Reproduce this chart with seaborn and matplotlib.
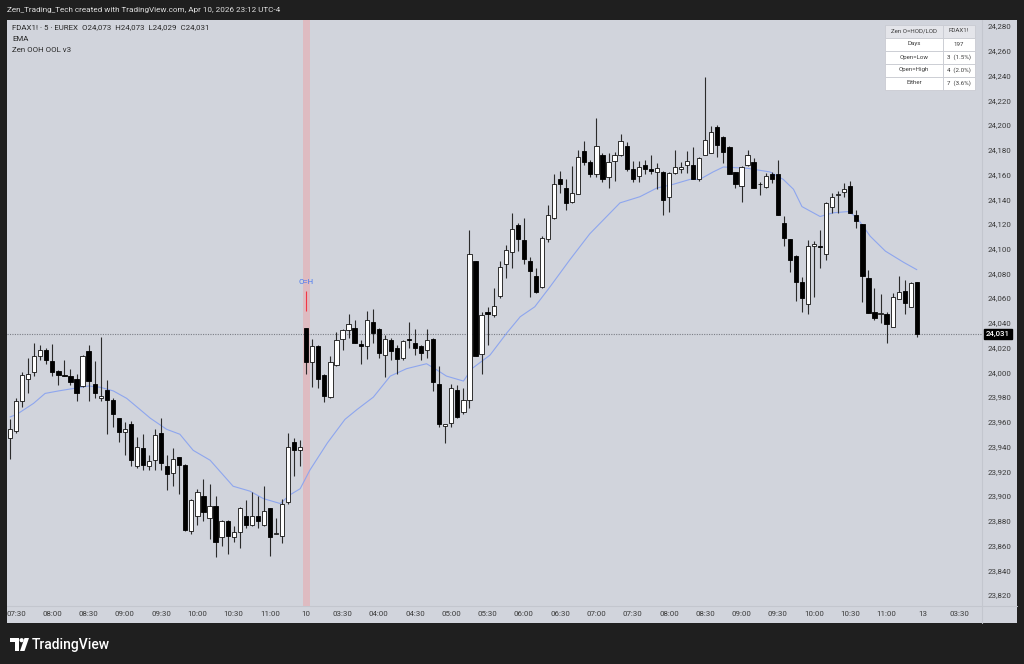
import numpy as np
import pandas as pd
import matplotlib
matplotlib.use("Agg")
import matplotlib.pyplot as plt
import matplotlib.patches as mpatches
import matplotlib.transforms as mtransforms
import seaborn as sns

# ---------------- data ----------------
opens = [23947, 23953, 23977, 23995, 24000, 24013, 24018, 24009, 24001, 23998,
         23997, 23995, 23989, 24017, 23991, 23979, 23986, 23978, 23963, 23952,
         23958, 23924, 23939, 23924, 23929, 23951, 23924, 23919, 23932, 23925,
         23872, 23884, 23900, 23882, 23892, 23867, 23880, 23867, 23871, 23884,
         23877, 23884, 23877, 23890, 23869, 23868, 23895, 23944, 23937,
         24036, 24008, 24021, 23998, 23980, 24006, 24027, 24034, 24036, 24023,
         24021, 24041, 24035, 24014, 24026, 24020, 24012, 24027, 24024, 24021,
         24018, 24027, 23991, 23957, 23959, 23986, 23968, 23978, 24090, 24015,
         24049, 24046, 24062, 24088, 24097, 24119, 24107, 24090, 24078, 24069,
         24108, 24125, 24156, 24149, 24138, 24144, 24179, 24170, 24160, 24176,
         24158, 24171, 24176, 24183, 24164, 24159, 24168, 24164, 24162, 24162,
         24142, 24161, 24164, 24168, 24168, 24156, 24176, 24177, 24198, 24190,
         24182, 24162, 24151, 24168, 24170, 24152, 24150, 24160, 24160, 24121,
         24108, 24094, 24073, 24055, 24102, 24102, 24096, 24134, 24143, 24146,
         24151, 24127, 24120, 24076, 24049, 24047, 24047, 24037, 24059, 24066,
         24053, 24073]
highs = [23962, 23979, 24000, 24012, 24024, 24022, 24020, 24023, 24002, 24010,
         24003, 23999, 24014, 24022, 24009, 24029, 23994, 23979, 23963, 23960,
         23961, 23948, 23950, 23933, 23954, 23963, 23933, 23939, 23932, 23926,
         23898, 23906, 23914, 23910, 23900, 23881, 23881, 23876, 23891, 23897,
         23903, 23900, 23908, 23890, 23882, 23898, 23951, 23947, 23945,
         24036, 24027, 24022, 23999, 24013, 24033, 24035, 24047, 24042, 24026,
         24050, 24051, 24036, 24030, 24028, 24022, 24026, 24041, 24035, 24022,
         24035, 24028, 24005, 23958, 23991, 23990, 23987, 24115, 24090, 24049,
         24053, 24068, 24090, 24103, 24129, 24121, 24125, 24093, 24084, 24110,
         24135, 24160, 24163, 24156, 24167, 24180, 24187, 24172, 24206, 24177,
         24177, 24178, 24193, 24186, 24171, 24171, 24172, 24176, 24169, 24163,
         24162, 24180, 24170, 24179, 24182, 24174, 24239, 24199, 24200, 24191,
         24183, 24162, 24167, 24180, 24173, 24154, 24161, 24162, 24172, 24126,
         24108, 24095, 24077, 24107, 24106, 24115, 24138, 24145, 24147, 24153,
         24155, 24131, 24120, 24083, 24068, 24063, 24049, 24064, 24078, 24075,
         24073, 24073]
lows = [23930, 23951, 23972, 23983, 23997, 24010, 24007, 23997, 23990, 23997,
        23990, 23977, 23988, 23977, 23979, 23977, 23950, 23956, 23944, 23933,
        23924, 23923, 23921, 23921, 23921, 23921, 23905, 23908, 23902, 23872,
        23869, 23877, 23880, 23865, 23851, 23860, 23853, 23863, 23858, 23874,
        23876, 23874, 23876, 23852, 23869, 23862, 23894, 23916, 23924,
        23999, 23988, 23987, 23976, 23979, 24005, 24018, 24028, 24024, 24007,
        24011, 24024, 24012, 23996, 24010, 23999, 24010, 24020, 24014, 24010,
        24012, 23985, 23956, 23943, 23956, 23963, 23966, 23971, 24013, 23999,
        24022, 24045, 24060, 24076, 24084, 24098, 24088, 24061, 24064, 24068,
        24105, 24124, 24145, 24131, 24137, 24144, 24168, 24158, 24158, 24154,
        24149, 24155, 24175, 24163, 24154, 24154, 24160, 24160, 24148, 24127,
        24130, 24160, 24161, 24161, 24156, 24155, 24176, 24177, 24174, 24169,
        24160, 24149, 24138, 24167, 24149, 24143, 24149, 24153, 24127, 24102,
        24081, 24058, 24049, 24047, 24061, 24084, 24091, 24129, 24129, 24142,
        24129, 24117, 24057, 24048, 24042, 24040, 24024, 24037, 24059, 24047,
        24053, 24029]
closes = [23954, 23977, 23998, 23999, 24013, 24018, 24010, 24000, 23998, 23997,
          23992, 23983, 24013, 23993, 23983, 23981, 23978, 23966, 23952, 23954,
          23929, 23940, 23925, 23928, 23949, 23927, 23918, 23930, 23925, 23873,
          23897, 23903, 23887, 23892, 23863, 23880, 23868, 23871, 23890, 23877,
          23884, 23880, 23888, 23867, 23870, 23894, 23940, 23937, 23940,
          24008, 24021, 23995, 23981, 24008, 24026, 24034, 24039, 24024, 24021,
          24042, 24032, 24016, 24027, 24017, 24011, 24025, 24026, 24020, 24016,
          24026, 23992, 23958, 23958, 23987, 23964, 23978, 24096, 24013, 24046,
          24047, 24054, 24085, 24099, 24116, 24108, 24092, 24082, 24065, 24109,
          24127, 24152, 24152, 24137, 24145, 24174, 24170, 24160, 24183, 24156,
          24170, 24176, 24187, 24164, 24156, 24166, 24164, 24163, 24165, 24139,
          24161, 24166, 24166, 24171, 24156, 24173, 24188, 24194, 24184, 24178,
          24160, 24152, 24166, 24176, 24149, 24152, 24159, 24156, 24127, 24109,
          24091, 24073, 24060, 24102, 24104, 24101, 24137, 24142, 24144, 24148,
          24129, 24122, 24078, 24048, 24044, 24048, 24039, 24061, 24065, 24056,
          24072, 24031]

ema_pos = [0, 1.1, 3.9, 5.8, 8.0, 10.5, 13.0, 14.9, 17.1, 19.3, 21.5, 23.2,
           25.9, 28.1, 30.3, 33.1, 36.9, 39.7, 41.9, 44.7, 46.3, 48.0, 49.6,
           52.5, 55.4, 57.4, 60.1, 62.9, 65.6, 68.9, 70.6, 72.2, 75.0, 76.4,
           79.4, 82.2, 84.4, 86.8, 89.3, 92.6, 95.9, 97.1, 100.9, 104.2, 107.0,
           109.7, 112.5, 114.1, 116.3, 118.0, 121.9, 125.7, 127.9, 129.6, 131.0,
           134.0, 136.2, 138.7, 140.1, 142.3, 144.8, 147.8, 150.0]
ema_val = [23964, 23966, 23975, 23983, 23985, 23987, 23989, 23988, 23985, 23979,
           23970, 23963, 23954, 23950, 23937, 23929, 23908, 23904, 23898, 23894,
           23901, 23906, 23921, 23943, 23962, 23970, 23980, 23997, 24003, 24007,
           24002, 23997, 23993, 24003, 24014, 24032, 24045, 24053, 24069, 24091,
           24112, 24118, 24137, 24142, 24149, 24152, 24156, 24156, 24162, 24166,
           24165, 24162, 24156, 24148, 24134, 24126, 24129, 24130, 24125, 24110,
           24098, 24089, 24083]

time_tick_pos = [1, 7, 13, 19, 25, 31, 37, 43, 49, 55, 61, 67, 73, 79, 85, 91,
                 97, 103, 109, 115, 121, 127, 133, 139, 145, 151, 157]
time_tick_labels = ["07:30", "08:00", "08:30", "09:00", "09:30", "10:00", "10:30",
                    "11:00", "10", "03:30", "04:00", "04:30", "05:00", "05:30",
                    "06:00", "06:30", "07:00", "07:30", "08:00", "08:30", "09:00",
                    "09:30", "10:00", "10:30", "11:00", "13", "03:30"]
price_ticks = [23820, 23840, 23860, 23880, 23900, 23920, 23940, 23960, 23980,
               24000, 24020, 24040, 24060, 24080, 24100, 24120, 24140, 24160,
               24180, 24200, 24220, 24240, 24260, 24280]

day2_start = 49  # first bar of the Apr 10 session (O=H signal bar)

header_text = "Zen_Trading_Tech created with TradingView.com, Apr 10, 2026 23:12 UTC-4"
legend_lines = ["FDAX1! \u00b7 5 \u00b7 EUREX  O24,073  H24,073  L24,029  C24,031",
                "EMA", "Zen OOH OOL v3"]
table_rows = [("Zen O=HOD/LOD", "FDAX1!"), ("Days", "197"),
              ("Open=Low", "3  (1.5%)"), ("Open=High", "4  (2.0%)"),
              ("Either", "7  (3.6%)")]

# ---------------- style ----------------
sns.set_theme(style="white")
plt.rcParams["font.family"] = ["Roboto", "DejaVu Sans"]

W, H = 1024, 664
PANEL = "#d1d4dc"
fig = plt.figure(figsize=(W / 100, H / 100), dpi=100)
fig.patch.set_facecolor("#1f1f1f")

# background overlay in pixel coordinates
bg = fig.add_axes([0, 0, 1, 1], zorder=0)
bg.set_xlim(0, W)
bg.set_ylim(H, 0)
bg.axis("off")
L, R, T, B = 7, 981.5, 20, 605.5
bg.add_patch(mpatches.Rectangle((7, 20), 1010, 603, fc=PANEL, ec="none"))
bg.plot([R, R], [T, 623], color="#c3c6ce", lw=0.8)
bg.plot([7, 1017], [B, B], color="#c3c6ce", lw=0.8)
bg.text(7, 10, header_text, color="#e0e0e0", fontsize=5.9, va="center", ha="left")

# TradingView logo
bg.add_patch(mpatches.Polygon([(10, 638), (19, 638), (19, 651), (15, 651), (15, 642), (10, 642)],
                              closed=True, fc="white", ec="none"))
bg.add_patch(mpatches.Circle((21.6, 640.2), 2.1, fc="white", ec="none"))
bg.add_patch(mpatches.Polygon([(24.5, 638), (29, 638), (24.5, 651), (20, 651)],
                              closed=True, fc="white", ec="none"))
bg.text(32, 644.5, "TradingView", color="white", fontsize=10, fontweight="medium",
        va="center", ha="left")

# chart axes
ax = fig.add_axes([L / W, 1 - B / H, (R - L) / W, (B - T) / H], zorder=1)
ax.set_facecolor("none")

df = pd.DataFrame({"open": opens, "high": highs, "low": lows, "close": closes})
df["x"] = np.arange(len(df))
up = df["close"] >= df["open"]

# session highlight + signal marker
ax.axvspan(day2_start - 0.55, day2_start + 0.55, color="#e3b3b9", alpha=0.75, lw=0, zorder=1)
ax.vlines(day2_start, highs[day2_start] + 14, highs[day2_start] + 30,
          color="#f23645", lw=0.8, zorder=4)
ax.text(day2_start, highs[day2_start] + 37, "O=H", color="#4a78f0", fontsize=5.6,
        ha="center", va="center", zorder=4)

# last price dotted line
ax.axhline(closes[-1], color="#7b7e86", lw=0.8, ls=(0, (1, 1.2)), zorder=1.5)

# EMA
sns.lineplot(x=ema_pos, y=ema_val, ax=ax, color="#8ea6ee", lw=0.8, zorder=2, sort=False)

# candles
ax.vlines(df["x"], df["low"], df["high"], color="#2b2b2b", lw=0.8, zorder=3)
ax.bar(df["x"][up], (df["close"] - df["open"])[up], bottom=df["open"][up], width=0.7,
       color="white", edgecolor="#111111", linewidth=0.6, zorder=4)
ax.bar(df["x"][~up], (df["open"] - df["close"])[~up], bottom=df["close"][~up], width=0.7,
       color="black", edgecolor="black", linewidth=0.6, zorder=4)

ax.set_xlim(-0.5, 160.7)
ax.set_ylim(23811.6, 24284.8)
ax.set_xlabel("")
ax.set_ylabel("")
ax.set_xticks(time_tick_pos)
ax.set_xticklabels(time_tick_labels)
ax.yaxis.tick_right()
ax.set_yticks(price_ticks)
ax.set_yticklabels([f"{v:,}" for v in price_ticks])
ax.tick_params(axis="x", length=0, pad=4.0, labelsize=5.7, labelcolor="#3a3a3a")
ax.tick_params(axis="y", length=0, pad=4.6, labelsize=5.7, labelcolor="#3a3a3a")
for s in ax.spines.values():
    s.set_visible(False)
ax.grid(False)

# last price label on the price axis
trans = mtransforms.blended_transform_factory(ax.transAxes, ax.transData)
ax.text(1.0 + 16.5 / (R - L), closes[-1], f"{closes[-1]:,}", transform=trans,
        ha="center", va="center", color="white", fontsize=5.7, fontweight="medium",
        zorder=6, clip_on=False,
        bbox=dict(boxstyle="square,pad=0.3", fc="black", ec="black"))

# foreground overlay: legend texts + stats table
fg = fig.add_axes([0, 0, 1, 1], zorder=3)
fg.set_xlim(0, W)
fg.set_ylim(H, 0)
fg.axis("off")
fg.patch.set_alpha(0)
for i, t in enumerate(legend_lines):
    fg.text(12, 27 + i * 11.7, t, color="#2a2a2a", fontsize=5.7, va="center", ha="left")

tx0, tx1, tx2 = 885, 943, 975
ty0, rh = 24.5, 13
for r, (c1, c2) in enumerate(table_rows):
    y = ty0 + r * rh
    fc = "#e4e5ea" if r == 0 else "white"
    fg.add_patch(mpatches.Rectangle((tx0, y), tx1 - tx0, rh, fc=fc, ec="#c9cbd2", lw=0.6))
    fg.add_patch(mpatches.Rectangle((tx1, y), tx2 - tx1, rh, fc=fc, ec="#c9cbd2", lw=0.6))
    fg.text((tx0 + tx1) / 2, y + rh / 2, c1, fontsize=4.4, color="#3a3a3a", ha="center", va="center")
    fg.text((tx1 + tx2) / 2, y + rh / 2, c2, fontsize=4.4, color="#3a3a3a", ha="center", va="center")

fig.savefig("out.png", dpi=100, facecolor=fig.get_facecolor())
